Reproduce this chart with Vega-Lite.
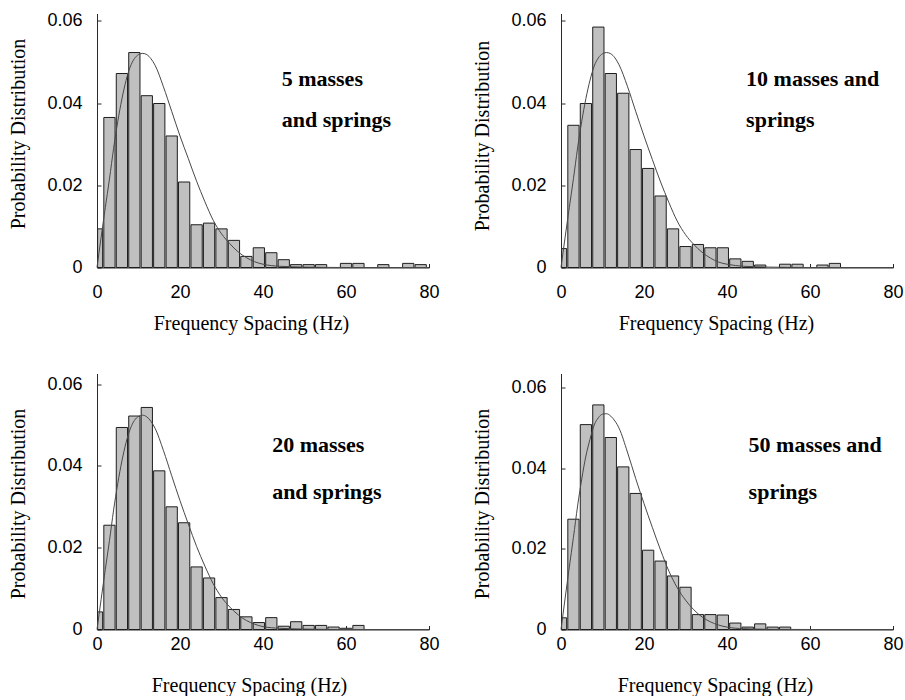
{
  "$schema": "https://vega.github.io/schema/vega-lite/v6.json",
  "padding": {"left": 8, "top": 11.5, "right": 0, "bottom": 0},
  "background": "white",
  "datasets": {
    "bars": [
      {"panel": "A", "lo": 0, "hi": 1.5, "p": 0.0094},
      {"panel": "A", "lo": 1.5, "hi": 4.5, "p": 0.0365},
      {"panel": "A", "lo": 4.5, "hi": 7.5, "p": 0.0472},
      {"panel": "A", "lo": 7.5, "hi": 10.5, "p": 0.0523},
      {"panel": "A", "lo": 10.5, "hi": 13.5, "p": 0.0418},
      {"panel": "A", "lo": 13.5, "hi": 16.5, "p": 0.0399},
      {"panel": "A", "lo": 16.5, "hi": 19.5, "p": 0.032},
      {"panel": "A", "lo": 19.5, "hi": 22.5, "p": 0.0208},
      {"panel": "A", "lo": 22.5, "hi": 25.5, "p": 0.0104},
      {"panel": "A", "lo": 25.5, "hi": 28.5, "p": 0.0108},
      {"panel": "A", "lo": 28.5, "hi": 31.5, "p": 0.0094},
      {"panel": "A", "lo": 31.5, "hi": 34.5, "p": 0.0066},
      {"panel": "A", "lo": 34.5, "hi": 37.5, "p": 0.0027},
      {"panel": "A", "lo": 37.5, "hi": 40.5, "p": 0.0048},
      {"panel": "A", "lo": 40.5, "hi": 43.5, "p": 0.0036},
      {"panel": "A", "lo": 43.5, "hi": 46.5, "p": 0.0019},
      {"panel": "A", "lo": 46.5, "hi": 49.5, "p": 0.0007},
      {"panel": "A", "lo": 49.5, "hi": 52.5, "p": 0.0007},
      {"panel": "A", "lo": 52.5, "hi": 55.5, "p": 0.0007},
      {"panel": "A", "lo": 58.5, "hi": 61.5, "p": 0.001},
      {"panel": "A", "lo": 61.5, "hi": 64.5, "p": 0.001},
      {"panel": "A", "lo": 67.5, "hi": 70.5, "p": 0.0007},
      {"panel": "A", "lo": 73.5, "hi": 76.5, "p": 0.001},
      {"panel": "A", "lo": 76.5, "hi": 79.5, "p": 0.0007},

      {"panel": "B", "lo": 0, "hi": 1.5, "p": 0.0046},
      {"panel": "B", "lo": 1.5, "hi": 4.5, "p": 0.0346},
      {"panel": "B", "lo": 4.5, "hi": 7.5, "p": 0.0399},
      {"panel": "B", "lo": 7.5, "hi": 10.5, "p": 0.0585},
      {"panel": "B", "lo": 10.5, "hi": 13.5, "p": 0.0472},
      {"panel": "B", "lo": 13.5, "hi": 16.5, "p": 0.0424},
      {"panel": "B", "lo": 16.5, "hi": 19.5, "p": 0.0287},
      {"panel": "B", "lo": 19.5, "hi": 22.5, "p": 0.0241},
      {"panel": "B", "lo": 22.5, "hi": 25.5, "p": 0.0174},
      {"panel": "B", "lo": 25.5, "hi": 28.5, "p": 0.0094},
      {"panel": "B", "lo": 28.5, "hi": 31.5, "p": 0.0051},
      {"panel": "B", "lo": 31.5, "hi": 34.5, "p": 0.0056},
      {"panel": "B", "lo": 34.5, "hi": 37.5, "p": 0.0048},
      {"panel": "B", "lo": 37.5, "hi": 40.5, "p": 0.0048},
      {"panel": "B", "lo": 40.5, "hi": 43.5, "p": 0.0021},
      {"panel": "B", "lo": 43.5, "hi": 46.5, "p": 0.0015},
      {"panel": "B", "lo": 46.5, "hi": 49.5, "p": 0.0006},
      {"panel": "B", "lo": 52.5, "hi": 55.5, "p": 0.0008},
      {"panel": "B", "lo": 55.5, "hi": 58.5, "p": 0.0008},
      {"panel": "B", "lo": 61.5, "hi": 64.5, "p": 0.0006},
      {"panel": "B", "lo": 64.5, "hi": 67.5, "p": 0.001},

      {"panel": "C", "lo": 0, "hi": 1.5, "p": 0.0043},
      {"panel": "C", "lo": 1.5, "hi": 4.5, "p": 0.0255},
      {"panel": "C", "lo": 4.5, "hi": 7.5, "p": 0.0494},
      {"panel": "C", "lo": 7.5, "hi": 10.5, "p": 0.0522},
      {"panel": "C", "lo": 10.5, "hi": 13.5, "p": 0.0543},
      {"panel": "C", "lo": 13.5, "hi": 16.5, "p": 0.0388},
      {"panel": "C", "lo": 16.5, "hi": 19.5, "p": 0.03},
      {"panel": "C", "lo": 19.5, "hi": 22.5, "p": 0.0261},
      {"panel": "C", "lo": 22.5, "hi": 25.5, "p": 0.0153},
      {"panel": "C", "lo": 25.5, "hi": 28.5, "p": 0.0126},
      {"panel": "C", "lo": 28.5, "hi": 31.5, "p": 0.0078},
      {"panel": "C", "lo": 31.5, "hi": 34.5, "p": 0.0049},
      {"panel": "C", "lo": 34.5, "hi": 37.5, "p": 0.0031},
      {"panel": "C", "lo": 37.5, "hi": 40.5, "p": 0.0017},
      {"panel": "C", "lo": 40.5, "hi": 43.5, "p": 0.0029},
      {"panel": "C", "lo": 43.5, "hi": 46.5, "p": 0.0008},
      {"panel": "C", "lo": 46.5, "hi": 49.5, "p": 0.0019},
      {"panel": "C", "lo": 49.5, "hi": 52.5, "p": 0.001},
      {"panel": "C", "lo": 52.5, "hi": 55.5, "p": 0.001},
      {"panel": "C", "lo": 55.5, "hi": 58.5, "p": 0.0006},
      {"panel": "C", "lo": 58.5, "hi": 61.5, "p": 0.0003},
      {"panel": "C", "lo": 61.5, "hi": 64.5, "p": 0.001},

      {"panel": "D", "lo": 0, "hi": 1.5, "p": 0.0029},
      {"panel": "D", "lo": 1.5, "hi": 4.5, "p": 0.0274},
      {"panel": "D", "lo": 4.5, "hi": 7.5, "p": 0.0509},
      {"panel": "D", "lo": 7.5, "hi": 10.5, "p": 0.0558},
      {"panel": "D", "lo": 10.5, "hi": 13.5, "p": 0.0477},
      {"panel": "D", "lo": 13.5, "hi": 16.5, "p": 0.0404},
      {"panel": "D", "lo": 16.5, "hi": 19.5, "p": 0.0338},
      {"panel": "D", "lo": 19.5, "hi": 22.5, "p": 0.0197},
      {"panel": "D", "lo": 22.5, "hi": 25.5, "p": 0.017},
      {"panel": "D", "lo": 25.5, "hi": 28.5, "p": 0.0133},
      {"panel": "D", "lo": 28.5, "hi": 31.5, "p": 0.0105},
      {"panel": "D", "lo": 31.5, "hi": 34.5, "p": 0.0037},
      {"panel": "D", "lo": 34.5, "hi": 37.5, "p": 0.0037},
      {"panel": "D", "lo": 37.5, "hi": 40.5, "p": 0.0036},
      {"panel": "D", "lo": 40.5, "hi": 43.5, "p": 0.0016},
      {"panel": "D", "lo": 43.5, "hi": 46.5, "p": 0.0006},
      {"panel": "D", "lo": 46.5, "hi": 49.5, "p": 0.0014},
      {"panel": "D", "lo": 49.5, "hi": 52.5, "p": 0.0006},
      {"panel": "D", "lo": 52.5, "hi": 55.5, "p": 0.0006}
    ],
    "curves": [
      {"panel": "A", "f": 0, "p": 0}, {"panel": "A", "f": 1, "p": 0.0074}, {"panel": "A", "f": 2, "p": 0.0146},
      {"panel": "A", "f": 3, "p": 0.0215}, {"panel": "A", "f": 4, "p": 0.029}, {"panel": "A", "f": 5, "p": 0.0355},
      {"panel": "A", "f": 6, "p": 0.041}, {"panel": "A", "f": 7, "p": 0.0455}, {"panel": "A", "f": 8, "p": 0.0488},
      {"panel": "A", "f": 9, "p": 0.0508}, {"panel": "A", "f": 10, "p": 0.0518}, {"panel": "A", "f": 11, "p": 0.0521},
      {"panel": "A", "f": 12, "p": 0.0518}, {"panel": "A", "f": 13, "p": 0.0508}, {"panel": "A", "f": 14, "p": 0.0492},
      {"panel": "A", "f": 16, "p": 0.044}, {"panel": "A", "f": 18, "p": 0.038}, {"panel": "A", "f": 20, "p": 0.032},
      {"panel": "A", "f": 22, "p": 0.0265}, {"panel": "A", "f": 24, "p": 0.021}, {"panel": "A", "f": 26, "p": 0.016},
      {"panel": "A", "f": 28, "p": 0.0115}, {"panel": "A", "f": 30, "p": 0.0082}, {"panel": "A", "f": 32, "p": 0.0058},
      {"panel": "A", "f": 34, "p": 0.0038}, {"panel": "A", "f": 36, "p": 0.0024}, {"panel": "A", "f": 38, "p": 0.0014},
      {"panel": "A", "f": 40, "p": 0.0008}, {"panel": "A", "f": 44, "p": 0.0003}, {"panel": "A", "f": 50, "p": 0.0001},
      {"panel": "A", "f": 60, "p": 0}, {"panel": "A", "f": 80, "p": 0},

      {"panel": "B", "f": 0, "p": 0}, {"panel": "B", "f": 1, "p": 0.0074}, {"panel": "B", "f": 2, "p": 0.0146},
      {"panel": "B", "f": 3, "p": 0.0216}, {"panel": "B", "f": 4, "p": 0.0291}, {"panel": "B", "f": 5, "p": 0.0356},
      {"panel": "B", "f": 6, "p": 0.0411}, {"panel": "B", "f": 7, "p": 0.0456}, {"panel": "B", "f": 8, "p": 0.049},
      {"panel": "B", "f": 9, "p": 0.051}, {"panel": "B", "f": 10, "p": 0.052}, {"panel": "B", "f": 11, "p": 0.0523},
      {"panel": "B", "f": 12, "p": 0.052}, {"panel": "B", "f": 13, "p": 0.051}, {"panel": "B", "f": 14, "p": 0.0493},
      {"panel": "B", "f": 16, "p": 0.0441}, {"panel": "B", "f": 18, "p": 0.038}, {"panel": "B", "f": 20, "p": 0.032},
      {"panel": "B", "f": 22, "p": 0.0263}, {"panel": "B", "f": 24, "p": 0.0208}, {"panel": "B", "f": 26, "p": 0.0158},
      {"panel": "B", "f": 28, "p": 0.0113}, {"panel": "B", "f": 30, "p": 0.008}, {"panel": "B", "f": 32, "p": 0.0056},
      {"panel": "B", "f": 34, "p": 0.0037}, {"panel": "B", "f": 36, "p": 0.0023}, {"panel": "B", "f": 38, "p": 0.0013},
      {"panel": "B", "f": 40, "p": 0.0008}, {"panel": "B", "f": 44, "p": 0.0003}, {"panel": "B", "f": 50, "p": 0.0001},
      {"panel": "B", "f": 60, "p": 0}, {"panel": "B", "f": 80, "p": 0},

      {"panel": "C", "f": 0, "p": 0}, {"panel": "C", "f": 1, "p": 0.0074}, {"panel": "C", "f": 2, "p": 0.0147},
      {"panel": "C", "f": 3, "p": 0.0217}, {"panel": "C", "f": 4, "p": 0.0292}, {"panel": "C", "f": 5, "p": 0.0357},
      {"panel": "C", "f": 6, "p": 0.0412}, {"panel": "C", "f": 7, "p": 0.0457}, {"panel": "C", "f": 8, "p": 0.049},
      {"panel": "C", "f": 9, "p": 0.0511}, {"panel": "C", "f": 10, "p": 0.0521}, {"panel": "C", "f": 11, "p": 0.0524},
      {"panel": "C", "f": 12, "p": 0.052}, {"panel": "C", "f": 13, "p": 0.0509}, {"panel": "C", "f": 14, "p": 0.0492},
      {"panel": "C", "f": 16, "p": 0.0438}, {"panel": "C", "f": 18, "p": 0.0376}, {"panel": "C", "f": 20, "p": 0.0315},
      {"panel": "C", "f": 22, "p": 0.0258}, {"panel": "C", "f": 24, "p": 0.0203}, {"panel": "C", "f": 26, "p": 0.0155},
      {"panel": "C", "f": 28, "p": 0.0112}, {"panel": "C", "f": 30, "p": 0.0079}, {"panel": "C", "f": 32, "p": 0.0055},
      {"panel": "C", "f": 34, "p": 0.0036}, {"panel": "C", "f": 36, "p": 0.0022}, {"panel": "C", "f": 38, "p": 0.0013},
      {"panel": "C", "f": 40, "p": 0.0007}, {"panel": "C", "f": 44, "p": 0.0003}, {"panel": "C", "f": 50, "p": 0.0001},
      {"panel": "C", "f": 60, "p": 0}, {"panel": "C", "f": 80, "p": 0},

      {"panel": "D", "f": 0, "p": 0}, {"panel": "D", "f": 1, "p": 0.0078}, {"panel": "D", "f": 2, "p": 0.0155},
      {"panel": "D", "f": 3, "p": 0.0229}, {"panel": "D", "f": 4, "p": 0.0307}, {"panel": "D", "f": 5, "p": 0.0374},
      {"panel": "D", "f": 6, "p": 0.0431}, {"panel": "D", "f": 7, "p": 0.0473}, {"panel": "D", "f": 8, "p": 0.0508},
      {"panel": "D", "f": 9, "p": 0.0526}, {"panel": "D", "f": 10, "p": 0.0535}, {"panel": "D", "f": 11, "p": 0.0536},
      {"panel": "D", "f": 12, "p": 0.053}, {"panel": "D", "f": 13, "p": 0.0518}, {"panel": "D", "f": 14, "p": 0.05},
      {"panel": "D", "f": 16, "p": 0.0441}, {"panel": "D", "f": 18, "p": 0.0375}, {"panel": "D", "f": 20, "p": 0.0313},
      {"panel": "D", "f": 22, "p": 0.0254}, {"panel": "D", "f": 24, "p": 0.0197}, {"panel": "D", "f": 26, "p": 0.0145},
      {"panel": "D", "f": 28, "p": 0.0104}, {"panel": "D", "f": 30, "p": 0.0073}, {"panel": "D", "f": 32, "p": 0.0049},
      {"panel": "D", "f": 34, "p": 0.0031}, {"panel": "D", "f": 36, "p": 0.0019}, {"panel": "D", "f": 38, "p": 0.0011},
      {"panel": "D", "f": 40, "p": 0.0006}, {"panel": "D", "f": 44, "p": 0.0002}, {"panel": "D", "f": 50, "p": 0.00005},
      {"panel": "D", "f": 60, "p": 0}, {"panel": "D", "f": 80, "p": 0}
    ],
    "notes": [
      {"panel": "A", "x": 44.5, "y": 0.0442, "text": "5 masses"},
      {"panel": "A", "x": 44.5, "y": 0.0342, "text": "and springs"},
      {"panel": "B", "x": 44.6, "y": 0.0442, "text": "10 masses and"},
      {"panel": "B", "x": 44.6, "y": 0.0342, "text": "springs"},
      {"panel": "C", "x": 42.2, "y": 0.0435, "text": "20 masses"},
      {"panel": "C", "x": 42.2, "y": 0.032, "text": "and springs"},
      {"panel": "D", "x": 45.2, "y": 0.044, "text": "50 masses and"},
      {"panel": "D", "x": 45.2, "y": 0.0323, "text": "springs"}
    ]
  },
  "columns": 2,
  "spacing": {"row": 106, "column": 132},
  "bounds": "flush",
  "concat": [
    {
      "width": 332, "height": 254,
      "layer": [
        {
          "data": {"name": "bars"},
          "transform": [{"filter": "datum.panel === 'A'"}],
          "mark": {"type": "rect", "fill": "#c0c0c0", "stroke": "#1e1e1e", "strokeWidth": 1, "xOffset": 0.6, "x2Offset": -0.6},
          "encoding": {
            "x": {"field": "lo", "type": "quantitative", "scale": {"domain": [0, 80], "nice": false},
                  "axis": {"values": [0, 20, 40, 60, 80], "title": "Frequency Spacing (Hz)", "titleX": 154, "titlePadding": 12}},
            "x2": {"field": "hi"},
            "y": {"field": "p", "type": "quantitative", "scale": {"domain": [0, 0.0618], "nice": false},
                  "axis": {"values": [0, 0.02, 0.04, 0.06], "title": "Probability Distribution", "titleY": 120,
                           "labelExpr": "datum.value === 0 ? '0' : format(datum.value, '.2f')"}},
            "y2": {"datum": 0}
          }
        },
        {
          "data": {"name": "curves"},
          "transform": [{"filter": "datum.panel === 'A'"}],
          "mark": {"type": "line", "color": "#484848", "strokeWidth": 1, "interpolate": "monotone"},
          "encoding": {"x": {"field": "f", "type": "quantitative"}, "y": {"field": "p", "type": "quantitative"}}
        },
        {
          "data": {"name": "notes"},
          "transform": [{"filter": "datum.panel === 'A'"}],
          "mark": {"type": "text", "align": "left", "baseline": "alphabetic", "font": "Liberation Serif", "fontWeight": "bold", "fontSize": 22, "color": "#000"},
          "encoding": {"x": {"field": "x", "type": "quantitative"}, "y": {"field": "y", "type": "quantitative"}, "text": {"field": "text"}}
        }
      ]
    },
    {
      "width": 332, "height": 254,
      "layer": [
        {
          "data": {"name": "bars"},
          "transform": [{"filter": "datum.panel === 'B'"}],
          "mark": {"type": "rect", "fill": "#c0c0c0", "stroke": "#1e1e1e", "strokeWidth": 1, "xOffset": 0.6, "x2Offset": -0.6},
          "encoding": {
            "x": {"field": "lo", "type": "quantitative", "scale": {"domain": [0, 80], "nice": false},
                  "axis": {"values": [0, 20, 40, 60, 80], "title": "Frequency Spacing (Hz)", "titleX": 155, "titlePadding": 12}},
            "x2": {"field": "hi"},
            "y": {"field": "p", "type": "quantitative", "scale": {"domain": [0, 0.0618], "nice": false},
                  "axis": {"values": [0, 0.02, 0.04, 0.06], "title": "Probability Distribution", "titleY": 122,
                           "labelExpr": "datum.value === 0 ? '0' : format(datum.value, '.2f')"}},
            "y2": {"datum": 0}
          }
        },
        {
          "data": {"name": "curves"},
          "transform": [{"filter": "datum.panel === 'B'"}],
          "mark": {"type": "line", "color": "#484848", "strokeWidth": 1, "interpolate": "monotone"},
          "encoding": {"x": {"field": "f", "type": "quantitative"}, "y": {"field": "p", "type": "quantitative"}}
        },
        {
          "data": {"name": "notes"},
          "transform": [{"filter": "datum.panel === 'B'"}],
          "mark": {"type": "text", "align": "left", "baseline": "alphabetic", "font": "Liberation Serif", "fontWeight": "bold", "fontSize": 22, "color": "#000"},
          "encoding": {"x": {"field": "x", "type": "quantitative"}, "y": {"field": "y", "type": "quantitative"}, "text": {"field": "text"}}
        }
      ]
    },
    {
      "width": 332, "height": 256,
      "layer": [
        {
          "data": {"name": "bars"},
          "transform": [{"filter": "datum.panel === 'C'"}],
          "mark": {"type": "rect", "fill": "#c0c0c0", "stroke": "#1e1e1e", "strokeWidth": 1, "xOffset": 0.6, "x2Offset": -0.6},
          "encoding": {
            "x": {"field": "lo", "type": "quantitative", "scale": {"domain": [0, 80], "nice": false},
                  "axis": {"values": [0, 20, 40, 60, 80], "title": "Frequency Spacing (Hz)", "titleX": 152, "labelPadding": 10, "titlePadding": 22}},
            "x2": {"field": "hi"},
            "y": {"field": "p", "type": "quantitative", "scale": {"domain": [0, 0.0626], "nice": false},
                  "axis": {"values": [0, 0.02, 0.04, 0.06], "title": "Probability Distribution", "titleY": 130,
                           "labelExpr": "datum.value === 0 ? '0' : format(datum.value, '.2f')"}},
            "y2": {"datum": 0}
          }
        },
        {
          "data": {"name": "curves"},
          "transform": [{"filter": "datum.panel === 'C'"}],
          "mark": {"type": "line", "color": "#484848", "strokeWidth": 1, "interpolate": "monotone"},
          "encoding": {"x": {"field": "f", "type": "quantitative"}, "y": {"field": "p", "type": "quantitative"}}
        },
        {
          "data": {"name": "notes"},
          "transform": [{"filter": "datum.panel === 'C'"}],
          "mark": {"type": "text", "align": "left", "baseline": "alphabetic", "font": "Liberation Serif", "fontWeight": "bold", "fontSize": 22, "color": "#000"},
          "encoding": {"x": {"field": "x", "type": "quantitative"}, "y": {"field": "y", "type": "quantitative"}, "text": {"field": "text"}}
        }
      ]
    },
    {
      "width": 332, "height": 256,
      "layer": [
        {
          "data": {"name": "bars"},
          "transform": [{"filter": "datum.panel === 'D'"}],
          "mark": {"type": "rect", "fill": "#c0c0c0", "stroke": "#1e1e1e", "strokeWidth": 1, "xOffset": 0.6, "x2Offset": -0.6},
          "encoding": {
            "x": {"field": "lo", "type": "quantitative", "scale": {"domain": [0, 80], "nice": false},
                  "axis": {"values": [0, 20, 40, 60, 80], "title": "Frequency Spacing (Hz)", "titleX": 154, "labelPadding": 10, "titlePadding": 22}},
            "x2": {"field": "hi"},
            "y": {"field": "p", "type": "quantitative", "scale": {"domain": [0, 0.0636], "nice": false},
                  "axis": {"values": [0, 0.02, 0.04, 0.06], "title": "Probability Distribution", "titleY": 130,
                           "labelExpr": "datum.value === 0 ? '0' : format(datum.value, '.2f')"}},
            "y2": {"datum": 0}
          }
        },
        {
          "data": {"name": "curves"},
          "transform": [{"filter": "datum.panel === 'D'"}],
          "mark": {"type": "line", "color": "#484848", "strokeWidth": 1, "interpolate": "monotone"},
          "encoding": {"x": {"field": "f", "type": "quantitative"}, "y": {"field": "p", "type": "quantitative"}}
        },
        {
          "data": {"name": "notes"},
          "transform": [{"filter": "datum.panel === 'D'"}],
          "mark": {"type": "text", "align": "left", "baseline": "alphabetic", "font": "Liberation Serif", "fontWeight": "bold", "fontSize": 22, "color": "#000"},
          "encoding": {"x": {"field": "x", "type": "quantitative"}, "y": {"field": "y", "type": "quantitative"}, "text": {"field": "text"}}
        }
      ]
    }
  ],
  "config": {
    "view": {"stroke": null},
    "axis": {
      "grid": false,
      "domainColor": "#2a2a2a",
      "domainWidth": 1,
      "tickColor": "#2a2a2a",
      "tickSize": -4,
      "labelFont": "Liberation Sans",
      "labelFontSize": 18,
      "labelColor": "#000",
      "labelPadding": 19,
      "titleFont": "Liberation Serif",
      "titleFontSize": 20,
      "titleFontWeight": "normal",
      "titleColor": "#000"
    },
    "axisX": {"labelPadding": 20, "labelFlush": false, "titlePadding": 12},
    "axisY": {"titlePadding": 18}
  }
}
